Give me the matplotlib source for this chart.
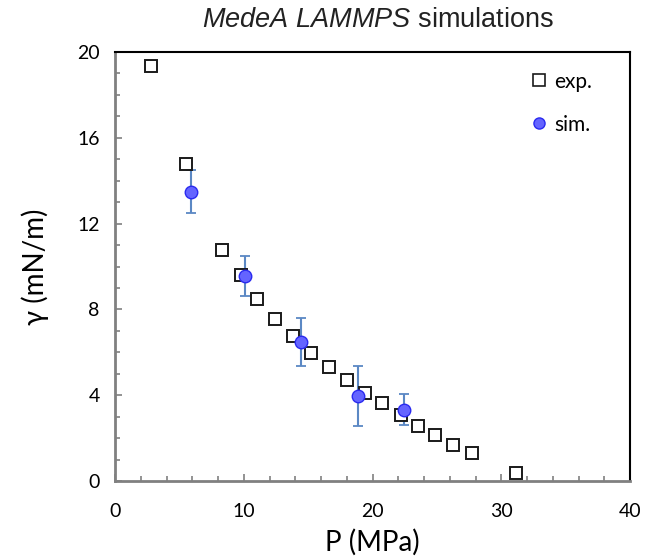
import matplotlib
matplotlib.use("Agg")
import matplotlib.pyplot as plt
from matplotlib.ticker import MultipleLocator
from matplotlib.lines import Line2D

exp_P = [2.80, 5.51, 8.31, 9.76, 11.05, 12.45, 13.85, 15.25, 16.65, 18.0,
         19.39, 20.74, 22.21, 23.56, 24.88, 26.28, 27.70, 31.12]
exp_gamma = [19.35, 14.78, 10.77, 9.60, 8.48, 7.54, 6.78, 5.98, 5.33, 4.69,
             4.10, 3.64, 3.06, 2.56, 2.13, 1.69, 1.32, 0.39]
sim_P = [5.88, 10.10, 14.42, 18.87, 22.45]
sim_gamma = [13.49, 9.57, 6.48, 3.96, 3.32]
sim_err = [1.0, 0.94, 1.1, 1.4, 0.72]

plt.rcParams['mathtext.fontset'] = 'custom'
plt.rcParams['mathtext.rm'] = 'Liberation Sans'
plt.rcParams['mathtext.it'] = 'Liberation Sans:italic'

fig = plt.figure(figsize=(6.52, 5.57), dpi=100)
ax = fig.add_axes([115/652, 1-481/557, (630-115)/652, (481-52)/557])

ax.errorbar(sim_P, sim_gamma, yerr=sim_err, fmt='none', ecolor='#5b88c4',
            elinewidth=1.5, capsize=3.5, capthick=1.3, zorder=2)
ax.plot(exp_P, exp_gamma, linestyle='none', marker='s', markersize=9,
        markerfacecolor='white', markeredgecolor='#1a1a1a', markeredgewidth=1.4, zorder=3)
ax.plot(sim_P, sim_gamma, linestyle='none', marker='o', markersize=9,
        markerfacecolor='#6464ff', markeredgecolor='#2a2af0', markeredgewidth=1.0, zorder=4)

ax.set_xlim(0, 40)
ax.set_ylim(0, 20)
ax.xaxis.set_major_locator(MultipleLocator(10))
ax.xaxis.set_minor_locator(MultipleLocator(2))
ax.yaxis.set_major_locator(MultipleLocator(4))
ax.yaxis.set_minor_locator(MultipleLocator(1))

for s in ['left', 'bottom']:
    ax.spines[s].set_color('#808080')
    ax.spines[s].set_linewidth(2.0)
for s in ['top', 'right']:
    ax.spines[s].set_color('black')
    ax.spines[s].set_linewidth(1.5)

ax.tick_params(which='both', direction='in', color='#808080', width=1.2,
               top=False, right=False)
ax.tick_params(which='major', length=5, labelsize=14)
ax.tick_params(axis='x', which='major', pad=16)
ax.tick_params(axis='y', which='major', pad=11)
ax.tick_params(which='minor', length=3.5)
for lab in ax.get_xticklabels() + ax.get_yticklabels():
    lab.set_fontfamily('Lato')

ax.set_xlabel('P (MPa)', fontsize=20, fontfamily='Lato', labelpad=6)
ax.set_ylabel('γ (mN/m)', fontsize=20, fontfamily='Lato', labelpad=20)

handles = [
    Line2D([], [], linestyle='none', marker='s', markersize=8,
           markerfacecolor='white', markeredgecolor='#1a1a1a', markeredgewidth=1.2),
    Line2D([], [], linestyle='none', marker='o', markersize=8,
           markerfacecolor='#6464ff', markeredgecolor='#2a2af0', markeredgewidth=1.0),
]
leg = ax.legend(handles, ['exp.', 'sim.'], loc='upper right', frameon=False,
                bbox_to_anchor=(0.962, 0.998), handlelength=0.8, handletextpad=0.3,
                labelspacing=1.1, prop={'family': 'Lato', 'size': 15})

fig.text(378/652, 1-20/557, r'$\mathit{MedeA\ LAMMPS}$ simulations',
         ha='center', va='center', fontsize=19.5, fontfamily='Liberation Sans',
         color='#222222')

fig.savefig('out.png', dpi=100)
